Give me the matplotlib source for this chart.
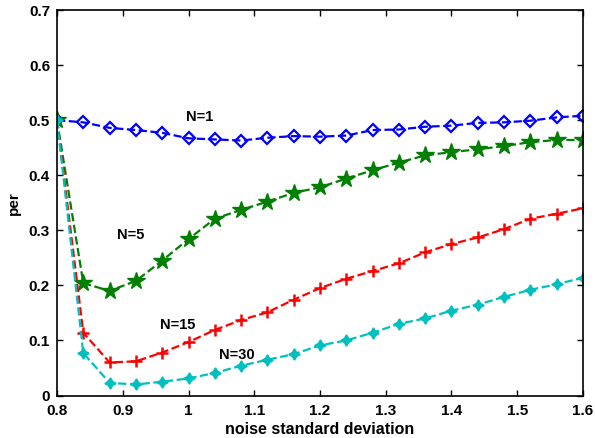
import numpy as np
import matplotlib
matplotlib.use('Agg')
import matplotlib.pyplot as plt

noise_std = [0.80, 0.84, 0.88, 0.92, 0.96, 1.00, 1.04, 1.08, 1.12, 1.16, 1.20,
             1.24, 1.28, 1.32, 1.36, 1.40, 1.44, 1.48, 1.52, 1.56, 1.60]

per_n1 = [0.500, 0.496, 0.486, 0.482, 0.477, 0.467, 0.465, 0.463, 0.468, 0.471, 0.470,
          0.472, 0.482, 0.483, 0.488, 0.490, 0.495, 0.496, 0.499, 0.505, 0.508]
per_n5 = [0.500, 0.204, 0.190, 0.208, 0.245, 0.284, 0.321, 0.337, 0.352, 0.368, 0.378,
          0.394, 0.409, 0.423, 0.436, 0.442, 0.447, 0.453, 0.460, 0.464, 0.464]
per_n15 = [0.500, 0.114, 0.060, 0.062, 0.078, 0.097, 0.119, 0.137, 0.151, 0.174, 0.195,
           0.212, 0.226, 0.240, 0.260, 0.275, 0.287, 0.302, 0.321, 0.330, 0.340]
per_n30 = [0.500, 0.077, 0.023, 0.020, 0.025, 0.031, 0.041, 0.054, 0.065, 0.075, 0.091,
           0.100, 0.114, 0.130, 0.140, 0.154, 0.165, 0.179, 0.192, 0.202, 0.214]

labels = ['N=1', 'N=5', 'N=15', 'N=30']
label_pos = [(1.017, 0.506), (0.912, 0.292), (0.984, 0.128), (1.073, 0.074)]

plt.rcParams['font.family'] = ['Liberation Sans', 'DejaVu Sans']
plt.rcParams['font.weight'] = 'bold'

fig = plt.figure(figsize=(5.95, 4.38), dpi=100)
ax = fig.add_axes([57 / 595, (438 - 395.5) / 438, 526 / 595, 385.5 / 438])

ax.plot(noise_std, per_n1, 'b--', marker='D', mfc='none', mew=1.6, ms=6.5, lw=1.6)
ax.plot(noise_std, per_n5, '--', color='#007f00', marker='*', ms=13, lw=1.6)
ax.plot(noise_std, per_n15, 'r--', marker='+', ms=9, mew=1.8, lw=1.6)
ax.plot(noise_std, per_n30, '--', color='#00bfbf', marker=(4, 1, 0), ms=8, mew=1.2, lw=1.6)

for lab, (tx, ty) in zip(labels, label_pos):
    ax.text(tx, ty, lab, ha='center', va='center', fontsize=10.5, fontweight='bold')

ax.set_xlim(0.8, 1.6)
ax.set_ylim(0, 0.7)
ax.set_xticks(np.arange(0.8, 1.61, 0.1))
ax.set_xticklabels(['0.8', '0.9', '1', '1.1', '1.2', '1.3', '1.4', '1.5', '1.6'])
ax.set_yticks(np.arange(0, 0.71, 0.1))
ax.set_yticklabels(['0', '0.1', '0.2', '0.3', '0.4', '0.5', '0.6', '0.7'])
ax.tick_params(direction='in', top=True, right=True, length=4, labelsize=11, width=1)
ax.tick_params(axis='x', pad=6)
ax.tick_params(axis='y', pad=5)
for lb in ax.get_xticklabels() + ax.get_yticklabels():
    lb.set_fontweight('bold')
for sp in ax.spines.values():
    sp.set_linewidth(1.2)

ax.set_xlabel('noise standard deviation', fontsize=11.5, fontweight='bold', labelpad=3)
ax.set_ylabel('per', fontsize=11, fontweight='bold', labelpad=6)

fig.savefig('out.png', dpi=100)
